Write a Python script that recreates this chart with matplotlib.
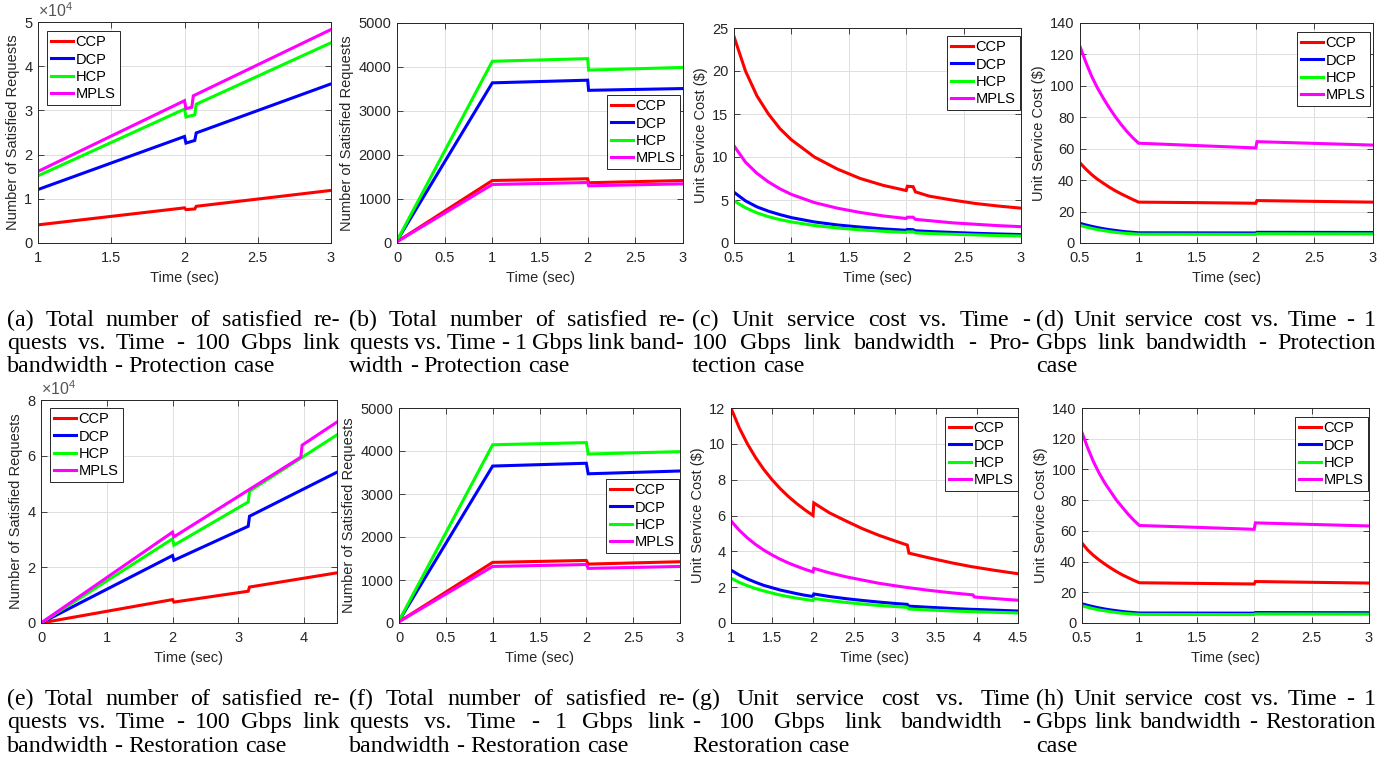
import matplotlib
matplotlib.use('Agg')
import matplotlib.pyplot as plt
from matplotlib.ticker import FuncFormatter, MultipleLocator

# ---------------- data ----------------
series_names = ['CCP', 'DCP', 'HCP', 'MPLS']

# (a) satisfied requests, 100 Gbps, protection
a_x_ccp = [1.0, 2.0, 2.01, 2.07, 2.08, 3.0]
a_y_ccp = [4100, 7950, 7550, 7700, 8300, 11900]
a_x_dcp = [1.0, 2.0, 2.01, 2.07, 2.08, 3.0]
a_y_dcp = [12100, 24100, 22600, 23200, 24900, 36000]
a_x_hcp = [1.0, 2.0, 2.01, 2.07, 2.08, 3.0]
a_y_hcp = [15200, 30300, 28500, 29000, 31400, 45300]
a_x_mpls = [1.0, 2.0, 2.01, 2.05, 2.06, 3.0]
a_y_mpls = [16200, 32200, 30400, 30700, 33300, 48300]

# (b) satisfied requests, 1 Gbps, protection
b_x = [0.0, 1.0, 2.0, 2.01, 3.0]
b_y_ccp = [30, 1420, 1460, 1370, 1420]
b_y_dcp = [50, 3640, 3700, 3470, 3510]
b_y_hcp = [50, 4130, 4190, 3930, 3990]
b_y_mpls = [30, 1330, 1375, 1300, 1345]

# (c) unit service cost, 100 Gbps, protection
c_x = [0.5, 0.6, 0.7, 0.8, 0.9, 1.0, 1.2, 1.4, 1.6, 1.8, 2.0, 2.01, 2.06, 2.08,
       2.2, 2.4, 2.6, 2.8, 3.0]
c_y_ccp = [24.0, 20.0, 17.1, 15.0, 13.3, 12.0, 10.0, 8.6, 7.5, 6.7, 6.1, 6.6, 6.55,
           5.95, 5.45, 5.0, 4.6, 4.3, 4.05]
c_y_dcp = [5.9, 4.9, 4.2, 3.7, 3.3, 2.95, 2.45, 2.1, 1.85, 1.64, 1.48, 1.58, 1.55,
           1.42, 1.34, 1.23, 1.13, 1.05, 0.98]
c_y_hcp = [4.9, 4.1, 3.5, 3.06, 2.72, 2.45, 2.04, 1.75, 1.53, 1.36, 1.23, 1.3, 1.3,
           1.18, 1.11, 1.02, 0.94, 0.87, 0.82]
c_y_mpls = [11.3, 9.4, 8.1, 7.1, 6.3, 5.65, 4.7, 4.05, 3.55, 3.15, 2.85, 3.0, 3.0,
            2.75, 2.6, 2.35, 2.18, 2.02, 1.9]

# (d) unit service cost, 1 Gbps, protection
d_x = [0.5, 0.55, 0.6, 0.65, 0.7, 0.75, 0.8, 0.85, 0.9, 0.95, 1.0, 1.5, 2.0, 2.01,
       2.5, 3.0]
d_y_ccp = [51, 47, 43.5, 40.5, 38, 35.5, 33.3, 31.3, 29.5, 27.7, 26, 25.7, 25.3, 27,
           26.5, 26]
d_y_dcp = [12.5, 11.5, 10.6, 9.8, 9.1, 8.5, 8.0, 7.5, 7.1, 6.8, 6.5, 6.45, 6.4, 6.8,
           6.75, 6.7]
d_y_hcp = [11.2, 10.2, 9.3, 8.5, 7.9, 7.3, 6.8, 6.4, 6.1, 5.85, 5.6, 5.55, 5.5, 5.9,
           5.85, 5.8]
d_y_mpls = [125, 115, 106, 98.5, 92, 86, 80.5, 75.5, 71, 67, 63.5, 62, 60.5, 64.5,
            63.4, 62.3]

# (e) satisfied requests, 100 Gbps, restoration
e_x_ccp = [0.0, 2.0, 2.02, 3.15, 3.17, 4.5]
e_y_ccp = [0, 8400, 7500, 11400, 12900, 18000]
e_x_dcp = [0.0, 2.0, 2.02, 3.15, 3.17, 4.5]
e_y_dcp = [0, 24200, 22500, 34700, 38300, 54100]
e_x_hcp = [0.0, 2.0, 2.02, 3.15, 3.17, 4.5]
e_y_hcp = [0, 30200, 27900, 43400, 47300, 67500]
e_x_mpls = [0.0, 2.0, 2.02, 3.95, 3.97, 4.5]
e_y_mpls = [0, 32600, 30900, 59500, 63800, 72100]

# (f) satisfied requests, 1 Gbps, restoration
f_x = [0.0, 1.0, 2.0, 2.02, 3.0]
f_y_ccp = [30, 1410, 1455, 1370, 1425]
f_y_dcp = [50, 3650, 3715, 3470, 3535]
f_y_hcp = [50, 4145, 4195, 3930, 3985]
f_y_mpls = [30, 1315, 1360, 1270, 1315]

# (g) unit service cost, 100 Gbps, restoration
g_x = [1.0, 1.1, 1.2, 1.3, 1.4, 1.5, 1.6, 1.7, 1.8, 1.9, 2.0, 2.01, 2.2, 2.4, 2.6,
       2.8, 3.0, 3.15, 3.17, 3.4, 3.7, 3.95, 3.97, 4.2, 4.5]
g_y_ccp = [12.0, 10.9, 10.0, 9.23, 8.57, 8.0, 7.5, 7.06, 6.67, 6.32, 6.0, 6.7, 6.15,
           5.7, 5.27, 4.9, 4.58, 4.35, 3.9, 3.65, 3.35, 3.13, 3.12, 2.95, 2.75]
g_y_dcp = [2.95, 2.68, 2.46, 2.27, 2.1, 1.97, 1.84, 1.74, 1.64, 1.55, 1.48, 1.62, 1.48,
           1.36, 1.26, 1.17, 1.09, 1.04, 0.94, 0.88, 0.81, 0.76, 0.76, 0.72, 0.67]
g_y_hcp = [2.5, 2.27, 2.08, 1.92, 1.79, 1.67, 1.56, 1.47, 1.39, 1.32, 1.25, 1.37, 1.25,
           1.15, 1.06, 0.98, 0.92, 0.87, 0.78, 0.73, 0.67, 0.63, 0.63, 0.6, 0.56]
g_y_mpls = [5.7, 5.18, 4.75, 4.38, 4.07, 3.8, 3.56, 3.35, 3.17, 3.0, 2.85, 3.05, 2.8,
            2.58, 2.4, 2.22, 2.08, 1.98, 1.97, 1.83, 1.68, 1.57, 1.45, 1.37, 1.27]

# (h) unit service cost, 1 Gbps, restoration
h_x = [0.5, 0.55, 0.6, 0.65, 0.7, 0.75, 0.8, 0.85, 0.9, 0.95, 1.0, 1.5, 2.0, 2.01,
       2.5, 3.0]
h_y_ccp = [52, 47.5, 44, 41, 38.3, 35.8, 33.5, 31.4, 29.6, 27.8, 26.2, 25.8, 25.4, 27,
           26.5, 26]
h_y_dcp = [12.5, 11.5, 10.6, 9.8, 9.1, 8.5, 8.0, 7.5, 7.1, 6.8, 6.5, 6.45, 6.4, 6.8,
           6.75, 6.7]
h_y_hcp = [11.2, 10.2, 9.3, 8.5, 7.9, 7.3, 6.8, 6.4, 6.1, 5.85, 5.6, 5.55, 5.5, 5.9,
           5.85, 5.8]
h_y_mpls = [124, 114, 105, 97.5, 91, 85.5, 80, 75.5, 71, 67, 63.5, 62.3, 61, 65.2,
            64.2, 63.2]

captions = {
    'a': ["(a) Total number of satisfied re-", "quests vs. Time - 100 Gbps link",
          "bandwidth - Protection case"],
    'b': ["(b) Total number of satisfied re-", "quests vs. Time - 1 Gbps link band-",
          "width - Protection case"],
    'c': ["(c) Unit service cost vs. Time -", "100 Gbps link bandwidth - Pro-",
          "tection case"],
    'd': ["(d) Unit service cost vs. Time - 1", "Gbps link bandwidth - Protection",
          "case"],
    'e': ["(e) Total number of satisfied re-", "quests vs. Time - 100 Gbps link",
          "bandwidth - Restoration case"],
    'f': ["(f) Total number of satisfied re-", "quests vs. Time - 1 Gbps link",
          "bandwidth - Restoration case"],
    'g': ["(g) Unit service cost vs. Time", "- 100 Gbps link bandwidth -",
          "Restoration case"],
    'h': ["(h) Unit service cost vs. Time - 1", "Gbps link bandwidth - Restoration",
          "case"],
}

# ---------------- styling ----------------
plt.rcParams['font.family'] = ['Liberation Sans', 'DejaVu Sans']
plt.rcParams['mathtext.fontset'] = 'custom'
plt.rcParams['mathtext.rm'] = 'Liberation Sans'
plt.rcParams['mathtext.it'] = 'Liberation Sans:italic'

W, H = 1394, 765
fig = plt.figure(figsize=(W / 100, H / 100), dpi=100)

COLORS = ['#ff0000', '#0000ff', '#00ff00', '#ff00ff']
AXC = '#262626'
LW = 2.2


def make_ax(l, r, t, b):
    return fig.add_axes([l / W, 1 - b / H, (r - l) / W, (b - t) / H])


gfmt = FuncFormatter(lambda v, p: ('%g' % v))
sfmt = FuncFormatter(lambda v, p: ('%g' % (v / 1e4)))


def style(ax, xlim, xstep, ylim, ystep, ylabel, sci=False):
    ax.set_xlim(*xlim)
    ax.set_ylim(*ylim)
    ax.xaxis.set_major_locator(MultipleLocator(xstep))
    ax.yaxis.set_major_locator(MultipleLocator(ystep))
    ax.xaxis.set_major_formatter(gfmt)
    ax.yaxis.set_major_formatter(sfmt if sci else gfmt)
    ax.grid(True, color='#dfdfdf', linewidth=0.7)
    ax.set_axisbelow(True)
    for s in ax.spines.values():
        s.set_color(AXC)
        s.set_linewidth(0.7)
    ax.tick_params(direction='in', top=True, right=True, length=4, width=0.6,
                   colors=AXC, labelsize=10.5)
    ax.tick_params(axis='x', pad=6)
    ax.tick_params(axis='y', pad=4)
    ax.set_xlabel('Time (sec)', fontsize=10.5, color=AXC, labelpad=4)
    ax.set_ylabel(ylabel, fontsize=10.5, color=AXC, labelpad=3)
    if sci:
        ax.text(0.0, 1.008, r'$\times10^{4}$', transform=ax.transAxes,
                fontsize=11.5, color='#555555', ha='left', va='bottom')


def draw(ax, xs, ys):
    for x, y, c, n in zip(xs, ys, COLORS, series_names):
        ax.plot(x, y, color=c, lw=LW, label=n, solid_joinstyle='miter')


def legend(ax, lx, ty):
    leg = ax.legend(loc='upper left', bbox_to_anchor=(lx / W, 1 - ty / H),
                    bbox_transform=fig.transFigure, borderaxespad=0, fancybox=False,
                    edgecolor=AXC, framealpha=1, fontsize=10.5, handlelength=1.45,
                    handletextpad=0.2, borderpad=0.3, labelspacing=0.22)
    leg.get_frame().set_linewidth(0.7)


YL_REQ = 'Number of Satisfied Requests'
YL_COST = 'Unit Service Cost ($)'

# (a)
ax = make_ax(38, 331, 22, 243)
draw(ax, [a_x_ccp, a_x_dcp, a_x_hcp, a_x_mpls], [a_y_ccp, a_y_dcp, a_y_hcp, a_y_mpls])
style(ax, (1, 3), 0.5, (0, 50000), 10000, YL_REQ, sci=True)
legend(ax, 47, 31)

# (b)
ax = make_ax(397, 683, 23, 243)
draw(ax, [b_x] * 4, [b_y_ccp, b_y_dcp, b_y_hcp, b_y_mpls])
style(ax, (0, 3), 0.5, (0, 5000), 1000, YL_REQ)
legend(ax, 607, 95)

# (c)
ax = make_ax(734, 1021, 28, 243)
draw(ax, [c_x] * 4, [c_y_ccp, c_y_dcp, c_y_hcp, c_y_mpls])
style(ax, (0.5, 3), 0.5, (0, 25), 5, YL_COST)
legend(ax, 947, 36)

# (d)
ax = make_ax(1080, 1373, 23, 243)
draw(ax, [d_x] * 4, [d_y_ccp, d_y_dcp, d_y_hcp, d_y_mpls])
style(ax, (0.5, 3), 0.5, (0, 140), 20, YL_COST)
legend(ax, 1297, 32)

# (e)
ax = make_ax(41, 337, 400, 623)
draw(ax, [e_x_ccp, e_x_dcp, e_x_hcp, e_x_mpls], [e_y_ccp, e_y_dcp, e_y_hcp, e_y_mpls])
style(ax, (0, 4.5), 1, (0, 80000), 20000, YL_REQ, sci=True)
legend(ax, 50, 408)

# (f)
ax = make_ax(399, 680, 408, 623)
draw(ax, [f_x] * 4, [f_y_ccp, f_y_dcp, f_y_hcp, f_y_mpls])
style(ax, (0, 3), 0.5, (0, 5000), 1000, YL_REQ)
legend(ax, 606, 479)

# (g)
ax = make_ax(731, 1018, 408, 623)
draw(ax, [g_x] * 4, [g_y_ccp, g_y_dcp, g_y_hcp, g_y_mpls])
style(ax, (1, 4.5), 0.5, (0, 12), 2, YL_COST)
legend(ax, 945, 417)

# (h)
ax = make_ax(1082, 1369, 408, 623)
draw(ax, [h_x] * 4, [h_y_ccp, h_y_dcp, h_y_hcp, h_y_mpls])
style(ax, (0.5, 3), 0.5, (0, 140), 20, YL_COST)
legend(ax, 1295, 417)

# ---------------- captions (justified) ----------------
CAP_FS = 17.3
renderer = fig.canvas.get_renderer()


def caption(lines, x0, x1, baselines):
    for i, (line, yb) in enumerate(zip(lines, baselines)):
        words = line.split(' ')
        texts = [fig.text(0, 1 - yb / H, w, fontsize=CAP_FS, family='Liberation Serif',
                          va='baseline', ha='left', color='black') for w in words]
        widths = [t.get_window_extent(renderer).width for t in texts]
        last = (i == len(lines) - 1)
        if last or len(words) == 1:
            gap = CAP_FS * 100 / 72 * 0.25
        else:
            gap = (x1 - x0 - sum(widths)) / (len(words) - 1)
        x = x0
        for t, w in zip(texts, widths):
            t.set_x(x / W)
            x += w + gap


cols = [(7, 340), (349, 685), (692, 1030), (1036, 1376)]
row1 = [326, 349, 372]
row2 = [705, 728, 752]
for key, (x0, x1) in zip('abcd', cols):
    caption(captions[key], x0, x1, row1)
for key, (x0, x1) in zip('efgh', cols):
    caption(captions[key], x0, x1, row2)

fig.savefig('out.png', dpi=100)
